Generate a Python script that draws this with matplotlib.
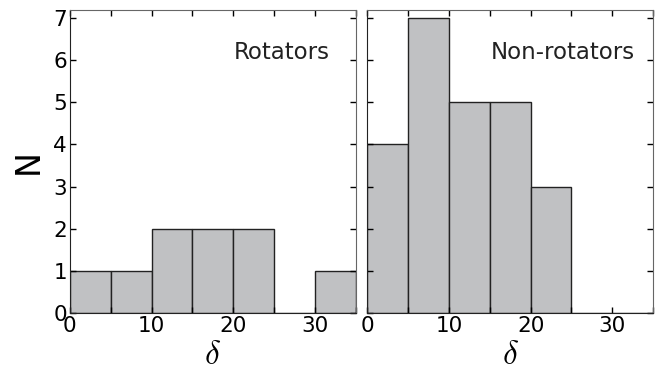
import matplotlib
matplotlib.use('Agg')
import matplotlib.pyplot as plt
import numpy as np

plt.rcParams['mathtext.fontset'] = 'cm'
plt.rcParams['font.family'] = 'DejaVu Sans'

bin_edges = [0, 5, 10, 15, 20, 25, 30, 35]
rotators = [1, 1, 2, 2, 2, 0, 1]
non_rotators = [4, 7, 5, 5, 3, 0, 0]
labels = ['Rotators', 'Non-rotators']
label_x = [0.91, 0.937]

fig, axes = plt.subplots(1, 2, figsize=(6.72, 3.76), dpi=100, sharey=True)
fig.subplots_adjust(left=0.104, right=0.972, bottom=0.168, top=0.973, wspace=0.04)

for ax, counts, lab, lx in zip(axes, [rotators, non_rotators], labels, label_x):
    lefts = np.array(bin_edges[:-1])
    ax.bar(lefts, counts, width=5, align='edge', color='#c0c1c3',
           edgecolor='#222222', linewidth=1.0)
    ax.set_xlim(0, 35)
    ax.set_ylim(0, 7.19)
    ax.set_xticks([0, 10, 20, 30])
    ax.set_xticks([5, 15, 25, 35], minor=True)
    ax.set_yticks(range(0, 8))
    ax.tick_params(which='both', direction='in', top=True, right=True,
                   labelsize=15.5, length=4, width=1, pad=2)
    ax.tick_params(which='minor', length=4)
    ax.set_xlabel(r'$\delta$', fontsize=24, labelpad=2)
    ax.text(lx, 0.86, lab, transform=ax.transAxes, ha='right', va='center',
            fontsize=16.5, color='#222222')
    for side in ['top', 'right']:
        ax.spines[side].set_color('#666666')
    for side in ['left', 'bottom']:
        ax.spines[side].set_color('#222222')

axes[0].set_ylabel('N', fontsize=24, labelpad=6)

fig.savefig('out.png', dpi=100)
